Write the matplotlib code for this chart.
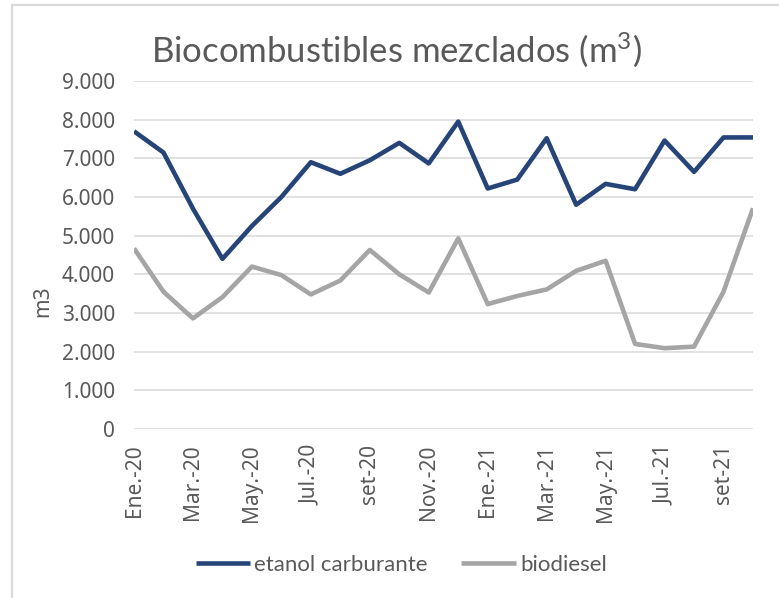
import matplotlib
matplotlib.use("Agg")
import matplotlib.pyplot as plt
from matplotlib.ticker import FuncFormatter
from matplotlib.patches import Rectangle

# ticks / axis label font
plt.rcParams['font.family'] = ['Noto Sans', 'DejaVu Sans']
plt.rcParams['mathtext.default'] = 'regular'

# --- data (m3 per month, Jan 2020 - Oct 2021) ---
months = ['Ene.-20', 'Feb.-20', 'Mar.-20', 'Abr.-20', 'May.-20', 'Jun.-20',
          'Jul.-20', 'Ago.-20', 'set-20', 'Oct.-20', 'Nov.-20', 'Dic.-20',
          'Ene.-21', 'Feb.-21', 'Mar.-21', 'Abr.-21', 'May.-21', 'Jun.-21',
          'Jul.-21', 'Ago.-21', 'set-21', 'Oct.-21']
etanol = [7700, 7150, 5700, 4400, 5250, 6000, 6900, 6600, 6950, 7400, 6870,
          7950, 6220, 6450, 7520, 5800, 6340, 6200, 7460, 6650, 7540, 7540]
biodiesel = [4670, 3550, 2860, 3410, 4200, 3980, 3480, 3840, 4630, 4000, 3530,
             4930, 3230, 3440, 3610, 4090, 4350, 2200, 2090, 2130, 3550, 5710]
y_ticks = [0, 1000, 2000, 3000, 4000, 5000, 6000, 7000, 8000, 9000]

blue = '#264478'
grey = '#A5A5A5'
text_col = '#595959'
title_font = ['Lato', 'DejaVu Sans']

fig = plt.figure(figsize=(7.79, 5.98), dpi=100)
ax = fig.add_axes([134 / 779, 169 / 598, (753 - 134) / 779, 348 / 598])

x = list(range(len(months)))
ax.plot(x, etanol, color=blue, linewidth=3.3, label='etanol carburante',
        solid_joinstyle='round', solid_capstyle='butt', zorder=3)
ax.plot(x, biodiesel, color=grey, linewidth=3.3, label='biodiesel',
        solid_joinstyle='round', solid_capstyle='butt', zorder=3)

ax.set_xlim(0, len(months) - 1)
ax.set_ylim(0, 9000)
ax.set_yticks(y_ticks)
ax.yaxis.set_major_formatter(FuncFormatter(lambda v, p: f'{int(v):,}'.replace(',', '.')))
ax.set_xticks(x[::2])
ax.set_xticklabels(months[::2], rotation=90, fontsize=15)
for lab in ax.get_yticklabels():
    lab.set_fontsize(15)
ax.tick_params(axis='both', length=0, labelsize=15, colors=text_col)
ax.tick_params(axis='y', pad=13.5)
ax.tick_params(axis='x', pad=11)

ax.grid(axis='y', color='#D9D9D9', linewidth=1.1)
ax.set_axisbelow(True)
for s in ax.spines.values():
    s.set_visible(False)

fig.text(43 / 779, 1 - 301 / 598, 'm3', rotation=90, ha='center', va='center',
         fontsize=15, color=text_col)
fig.text(396 / 779, 1 - 50 / 598, 'Biocombustibles mezclados (m$^{3}$)',
         ha='center', va='center', fontsize=25, color=text_col, family=title_font)

fig.legend(loc='center', bbox_to_anchor=(0.515, 1 - 565 / 598), ncol=2,
           frameon=False, handlelength=2.45, handletextpad=0.2,
           columnspacing=1.5, labelcolor=text_col,
           prop={'family': title_font, 'size': 16})

fig.patches.append(Rectangle((12 / 779, -0.05), 1.1, 1.05 - 5 / 598,
                             transform=fig.transFigure, fill=False,
                             edgecolor='#D9D9D9', linewidth=1.6))

fig.savefig('out.png', dpi=100)
